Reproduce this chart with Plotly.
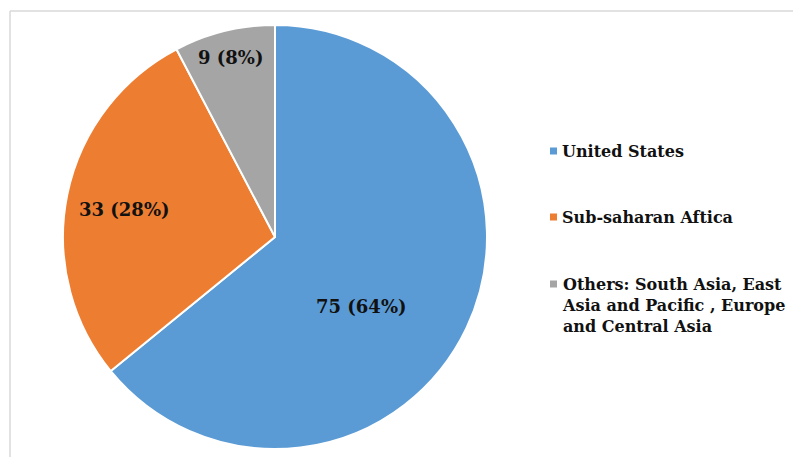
import plotly.graph_objects as go

# Category data
regions = ["United States", "Sub-saharan Aftica",
           "Others: South Asia, East Asia and Pacific , Europe and Central Asia"]
legend_lines = ["United States", "Sub-saharan Aftica",
                "Others: South Asia, East<br>Asia and Pacific , Europe<br>and Central Asia"]
counts = [75, 33, 9]
colors = ["#5B9BD5", "#ED7D31", "#A5A5A5"]

W, H = 793, 457
FONT = "DejaVu Serif"

# Pie geometry in pixels
cx, cy, r = 275, 237, 212

fig = go.Figure(go.Pie(
    labels=regions,
    values=counts,
    sort=False,
    direction="clockwise",
    rotation=0,
    marker=dict(colors=colors, line=dict(color="white", width=2)),
    textinfo="none",
    hoverinfo="label+value+percent",
    showlegend=False,
    domain=dict(x=[(cx - r) / W, (cx + r) / W],
                y=[(H - cy - r) / H, (H - cy + r) / H]),
))

total = sum(counts)
# Data-label positions (pixels) for each slice
label_pos = [(361, 306), (124, 210), (230, 58)]
annotations = []
for v, (lx, ly) in zip(counts, label_pos):
    annotations.append(dict(
        x=lx / W, y=1 - ly / H, xref="paper", yref="paper",
        text=f"<b>{v} ({round(100 * v / total)}%)</b>",
        showarrow=False, xanchor="center", yanchor="middle",
        font=dict(family=FONT, size=18, color="#111111"),
    ))

# Legend built from categories and colours
legend_y = [151, 217, 284]
shapes = []
for txt, col, ly in zip(legend_lines, colors, legend_y):
    shapes.append(dict(type="rect", xref="paper", yref="paper",
                       x0=550 / W, x1=557 / W,
                       y0=1 - (ly + 3.5) / H, y1=1 - (ly - 3.5) / H,
                       fillcolor=col, line=dict(width=0)))
    annotations.append(dict(
        x=560 / W, y=1 - (ly - 11) / H, xref="paper", yref="paper",
        text=f"<b>{txt}</b>", showarrow=False,
        xanchor="left", yanchor="top", align="left",
        font=dict(family=FONT, size=16, color="#111111"),
    ))

# Chart-area border (top and left edges)
shapes.append(dict(type="line", xref="paper", yref="paper",
                   x0=10 / W, x1=1, y0=1 - 11 / H, y1=1 - 11 / H,
                   line=dict(color="#D9D9D9", width=1.5)))
shapes.append(dict(type="line", xref="paper", yref="paper",
                   x0=10 / W, x1=10 / W, y0=0, y1=1 - 11 / H,
                   line=dict(color="#D9D9D9", width=1.5)))

fig.update_layout(
    width=W, height=H,
    margin=dict(l=0, r=0, t=0, b=0),
    paper_bgcolor="white", plot_bgcolor="white",
    annotations=annotations, shapes=shapes,
)

fig.write_html("out.html")
